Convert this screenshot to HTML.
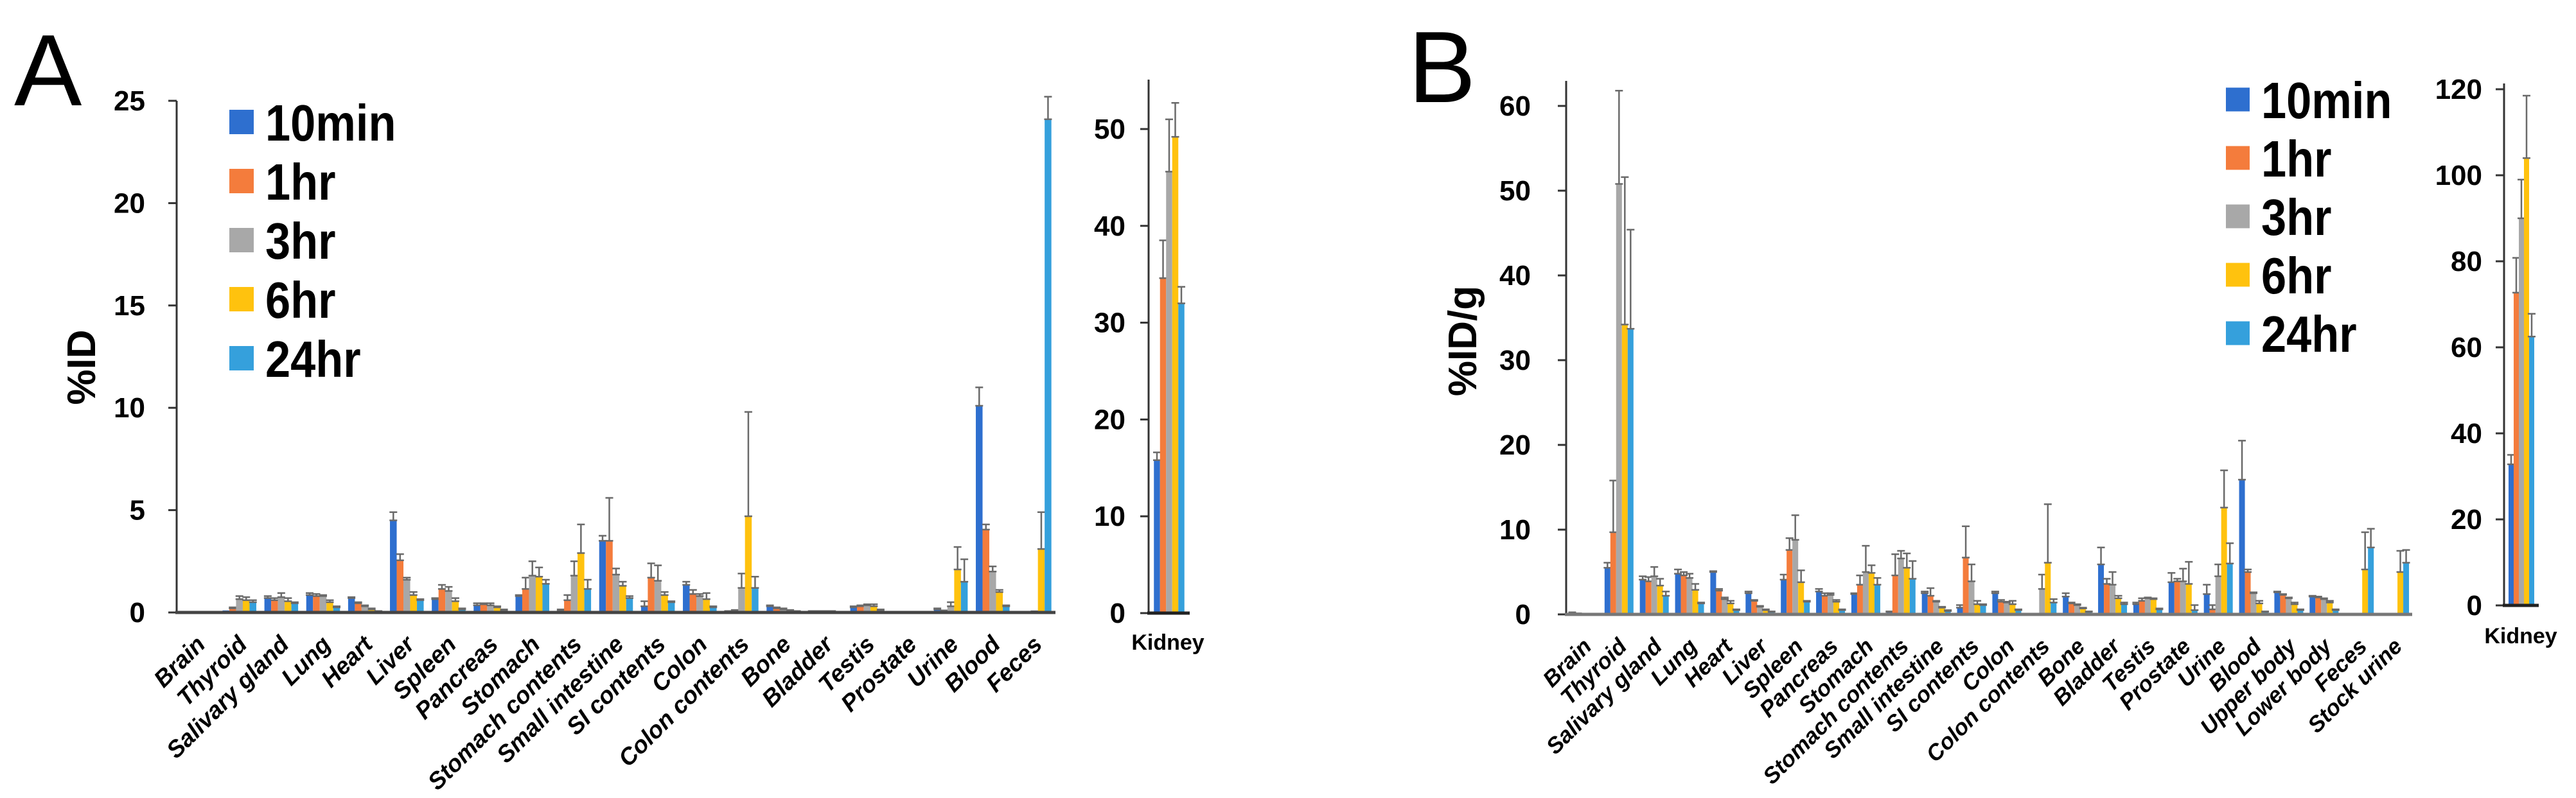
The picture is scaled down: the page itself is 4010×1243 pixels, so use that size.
<!DOCTYPE html>
<html><head><meta charset="utf-8"><style>
html,body{margin:0;padding:0;background:#fff;}
svg{display:block;font-family:"Liberation Sans",Arial,sans-serif;}
</style></head><body>
<svg id="fig" width="4010" height="1243" viewBox="0 0 4010 1243" xmlns="http://www.w3.org/2000/svg">
<text x="22" y="164" font-size="158">A</text>
<text x="2192" y="159" font-size="158">B</text>
<text transform="translate(148,572) rotate(-90)" text-anchor="middle" font-size="62" font-weight="bold">%ID</text>
<text transform="translate(2298,531) rotate(-90)" text-anchor="middle" font-size="62" font-weight="bold">%ID/g</text>
</svg>
<script>
const seriesNames = ["10min","1hr","3hr","6hr","24hr"];
const seriesColors = ["#2E6FCF","#F47C3C","#A8A8A8","#FFC20E","#35A0DC"];

const catsA = ["Brain","Thyroid","Salivary gland","Lung","Heart","Liver","Spleen","Pancreas","Stomach","Stomach contents","Small intestine","SI contents","Colon","Colon contents","Bone","Bladder","Testis","Prostate","Urine","Blood","Feces"];
const a10min = [0.05,0.1,0.7,0.85,0.7,4.5,0.65,0.35,0.8,0.1,3.5,0.3,1.35,0.05,0.3,0.05,0.25,0.03,0.15,10.1,0.02];
const a1hr   = [0.03,0.2,0.6,0.8,0.45,2.55,1.15,0.4,1.15,0.6,3.5,1.7,0.9,0.1,0.2,0.05,0.3,0.03,0.05,4.05,0.03];
const a3hr   = [0.02,0.65,0.75,0.8,0.3,1.6,1.05,0.35,1.8,1.8,1.85,1.55,0.8,1.2,0.15,0.05,0.35,0.03,0.3,2.0,0.05];
const a6hr   = [0.02,0.6,0.55,0.5,0.15,0.85,0.55,0.25,1.75,2.9,1.3,0.85,0.65,4.7,0.1,0.05,0.3,0.03,2.1,1.0,3.1];
const a24hr  = [0.01,0.5,0.45,0.25,0.05,0.6,0.15,0.1,1.4,1.15,0.7,0.5,0.25,1.2,0.05,0.03,0.1,0.03,1.5,0.3,24.1];
const aErr10min = [0.05,0.1,0.8,0.95,0.75,4.9,0.7,0.45,0.85,0.15,3.75,0.55,1.5,0.07,0.35,0.07,0.3,0.04,0.2,11.0,0.03];
const aErr1hr   = [0.04,0.25,0.7,0.9,0.5,2.85,1.35,0.45,1.7,0.85,5.6,2.4,1.1,0.12,0.25,0.07,0.35,0.04,0.1,4.3,0.04];
const aErr3hr   = [0.03,0.8,0.95,0.85,0.35,1.7,1.25,0.45,2.5,2.5,2.15,2.3,0.9,1.9,0.2,0.07,0.4,0.04,0.5,2.25,0.06];
const aErr6hr   = [0.03,0.75,0.7,0.6,0.2,1.0,0.7,0.3,2.2,4.3,1.5,1.0,0.95,9.8,0.12,0.07,0.4,0.04,3.2,1.1,4.9];
const aErr24hr  = [0.02,0.6,0.5,0.3,0.07,0.65,0.2,0.15,1.6,1.6,0.8,0.55,0.3,1.75,0.07,0.04,0.15,0.04,2.6,0.35,25.2];
const aTicks = [0,5,10,15,20,25];

const kidneyA = [15.8,34.6,45.6,49.2,32.0];
const kidneyAErr = [16.6,38.5,51.0,52.7,33.7];
const kidneyATicks = [0,10,20,30,40,50];

const catsB = ["Brain","Thyroid","Salivary gland","Lung","Heart","Liver","Spleen","Pancreas","Stomach","Stomach contents","Small intestine","SI contents","Colon","Colon contents","Bone","Bladder","Testis","Prostate","Urine","Blood","Upper body","Lower body","Feces","Stock urine"];
const b10min = [0.2,5.5,4.1,4.8,5.0,2.5,4.1,2.7,2.4,0.3,2.5,0.8,2.5,0.05,2.1,5.9,1.2,3.8,2.4,15.9,2.6,2.1,0.05,0];
const b1hr   = [0.1,9.7,3.9,4.6,2.8,1.6,7.6,2.2,3.5,4.6,2.2,6.7,1.5,0.05,1.3,3.6,1.6,3.9,0.6,5.0,2.3,2.0,0.05,0];
const b3hr   = [0.05,50.8,4.5,4.3,1.8,0.9,8.8,2.3,5.0,6.6,1.5,3.9,1.4,3.0,1.1,3.5,1.9,3.9,4.5,2.5,1.9,1.8,0.05,0];
const b6hr   = [0.05,34.2,3.4,2.9,1.3,0.5,3.8,1.5,4.9,5.5,0.8,1.2,1.2,6.1,0.7,1.9,1.8,3.6,12.6,1.3,1.2,1.4,5.3,5.0];
const b24hr  = [0.05,33.7,2.2,1.3,0.5,0.3,1.5,0.5,3.5,4.2,0.4,1.1,0.5,1.4,0.3,1.2,0.6,0.5,6.0,0.3,0.5,0.5,7.9,6.1];
const bErr10min = [0.25,6.1,4.5,5.3,5.1,2.7,4.7,3.0,2.5,0.35,2.7,1.1,2.7,0.07,2.5,7.9,1.4,4.9,3.5,20.5,2.7,2.2,0.07,0];
const bErr1hr   = [0.12,15.8,4.4,5.0,3.0,1.7,9.0,2.5,4.6,7.1,3.1,10.4,1.7,0.07,1.4,4.2,1.9,4.2,1.1,5.3,2.4,2.1,0.07,0];
const bErr3hr   = [0.07,61.8,5.6,4.8,2.0,1.0,11.7,2.5,8.1,7.5,1.6,5.9,1.5,4.7,1.2,5.0,2.0,5.4,5.9,2.6,2.0,1.9,0.07,0];
const bErr6hr   = [0.07,51.6,4.2,3.6,1.6,0.6,5.2,1.7,5.8,7.2,0.9,1.6,1.6,13.0,0.8,2.2,1.9,6.2,17.0,1.6,1.4,1.6,9.7,7.5];
const bErr24hr  = [0.07,45.4,2.7,1.4,0.6,0.35,1.6,0.6,4.3,6.3,0.5,1.2,0.6,1.8,0.35,1.4,0.7,1.1,8.4,0.35,0.6,0.6,10.1,7.6];
const bTicks = [0,10,20,30,40,50,60];

const kidneyB = [32.8,72.7,90.0,104.0,62.5];
const kidneyBErr = [35.0,80.8,99.0,118.5,67.8];
const kidneyBTicks = [0,20,40,60,80,100,120];

const NS = "http://www.w3.org/2000/svg";
const svg = document.getElementById("fig");
function mk(tag, attrs, parent){
  const e = document.createElementNS(NS, tag);
  for (const k in attrs) e.setAttribute(k, attrs[k]);
  (parent||svg).appendChild(e);
  return e;
}

function drawChart(p){
  const g = mk("g", {});
  
  
  const y = v => p.y0 - v * (p.y0 - p.yTop) / p.vTop;
  const n = p.cats.length;
  const cw = (p.x1 - p.x0) / n;
  const bw = p.barW;
  p.ticks.forEach(t => {
    const ty = y(t);
    const tl = mk("line", {x1:p.x0-13, x2:p.x0, y1:ty, y2:ty, stroke:"#333", "stroke-width":3}, g);
    
    
    const tx = mk("text", {x:p.labelRight, y:ty+15, "text-anchor":"end", "font-size":p.tickFont, "font-weight":"bold"}, g);
    tx.textContent = t;
    
    
  });
  p.cats.forEach((c, i) => {
    const gx = p.x0 + cw * i + (cw - bw * 5) / 2;
    p.series.forEach((arr, s) => {
      const v = arr[i];
      const bx = gx + s * bw;
      const top = y(v);
      const r = mk("rect", {x:bx, y:top, width:bw, height:Math.max(0, p.y0 - top), fill:seriesColors[s]}, g);
      
      
      const ev = p.errs[s][i];
      if (ev > v) {
        const cx = bx + bw / 2, ey = y(ev);
        const el = mk("path", {d:`M${cx},${top} V${ey} M${cx-6},${ey} H${cx+6} M${cx-6},${top} H${cx+6}`, stroke:"#6a6a6a", "stroke-width":2.5, fill:"none"}, g);
        
        
      }
    });
    if (p.catLabels) {
      const lx = p.x0 + cw * (i + 0.5) + 14, ly = p.y0 + 52;
      const t = mk("text", {x:lx, y:ly, "text-anchor":"end", "font-size":p.catFont, "font-weight":"bold", "font-style":"italic", transform:`rotate(-45 ${lx} ${ly})`}, g);
      t.textContent = c;
      
      
    }
  });
  const ya = mk("line", {x1:p.x0, x2:p.x0, y1:p.axisTop, y2:p.y0+2, stroke:"#333", "stroke-width":3}, g);
  
  
  const xa = mk("line", {x1:p.x0-2, x2:p.x1, y1:p.y0, y2:p.y0, stroke:p.baseColor, "stroke-width":5}, g);
  
  
}

function legend(x, y0, step, sq, font, name){
  const g = mk("g", {});
  
  
  seriesNames.forEach((s, i) => {
    const cy = y0 + i * step;
    const r = mk("rect", {x:x, y:cy - sq/2, width:sq, height:sq, fill:seriesColors[i]}, g);
    
    
    const t = mk("text", {x:0, y:0, "font-size":font, "font-weight":"bold", transform:`translate(${x + sq + 18},${cy + 29}) scale(0.88,1)`}, g);
    t.textContent = s;
    
    
  });
}

const A = [a10min,a1hr,a3hr,a6hr,a24hr];
const AE = [aErr10min,aErr1hr,aErr3hr,aErr6hr,aErr24hr];
drawChart({name:"panel-a-chart", cats:catsA, series:A, errs:AE, x0:275, x1:1643, y0:954, yTop:157, vTop:25, axisTop:157, ticks:aTicks, labelRight:226, tickFont:44, barW:10.5, catLabels:true, catFont:37, baseColor:"#444"});
drawChart({name:"panel-a-kidney-chart", cats:["Kidney"], series:kidneyA.map(v=>[v]), errs:kidneyAErr.map(v=>[v]), x0:1788, x1:1852, y0:955, yTop:201, vTop:50, axisTop:124, ticks:kidneyATicks, labelRight:1752, tickFont:44, barW:9.5, catLabels:false, baseColor:"#222"});

const B = [b10min,b1hr,b3hr,b6hr,b24hr];
const BE = [bErr10min,bErr1hr,bErr3hr,bErr6hr,bErr24hr];
drawChart({name:"panel-b-chart", cats:catsB, series:B, errs:BE, x0:2438, x1:3755, y0:957, yTop:165, vTop:60, axisTop:126, ticks:bTicks, labelRight:2383, tickFont:44, barW:9, catLabels:true, catFont:35, baseColor:"#777"});
drawChart({name:"panel-b-kidney-chart", cats:["Kidney"], series:kidneyB.map(v=>[v]), errs:kidneyBErr.map(v=>[v]), x0:3898, x1:3952, y0:943, yTop:139, vTop:120, axisTop:130, ticks:kidneyBTicks, labelRight:3864, tickFont:44, barW:8, catLabels:false, baseColor:"#222"});

legend(357, 190, 92, 38, 80, "panel-a-legend");
legend(3465, 155, 91, 37, 80, "panel-b-legend");

const k1 = mk("text", {x:1818, y:1012, "text-anchor":"middle", "font-size":34, "font-weight":"bold"});
k1.textContent = "Kidney";


const k2 = mk("text", {x:3924, y:1002, "text-anchor":"middle", "font-size":34, "font-weight":"bold"});
k2.textContent = "Kidney";


</script>
</body></html>
